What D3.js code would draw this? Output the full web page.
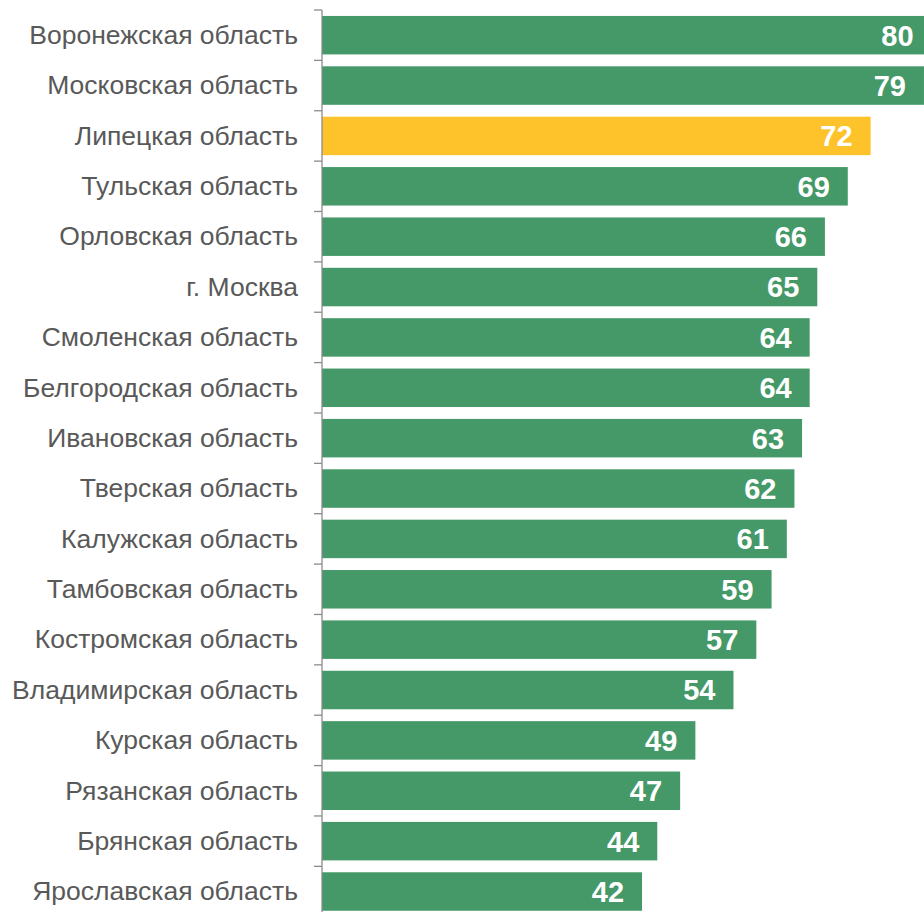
<!DOCTYPE html>
<html><head><meta charset="utf-8">
<script src="https://cdn.jsdelivr.net/npm/d3@7"></script>
<style>body{margin:0;background:#fff}svg{display:block}</style>
</head><body>
<script>
const categories = ["Воронежская область","Московская область","Липецкая область","Тульская область","Орловская область","г. Москва","Смоленская область","Белгородская область","Ивановская область","Тверская область","Калужская область","Тамбовская область","Костромская область","Владимирская область","Курская область","Рязанская область","Брянская область","Ярославская область"];
const values = [80,79,72,69,66,65,64,64,63,62,61,59,57,54,49,47,44,42];
const highlight = ["Липецкая область"];

const W = 924, H = 912;
const FONT = "'Liberation Sans', Arial, sans-serif";
const svg = d3.select("body").append("svg").attr("width", W).attr("height", H);
const x = d3.scaleLinear().domain([0, 80]).range([322, 931.6]);
const y = d3.scaleBand().domain(categories).range([10, 916.7]).paddingInner(0.236).paddingOuter(0.118);
const step = y.step();

const data = categories.map((c, i) => ({c, v: values[i]}));

svg.selectAll("rect.bar").data(data).join("rect").attr("class","bar")
  .attr("x", x(0)).attr("y", d => y(d.c))
  .attr("width", d => x(d.v) - x(0)).attr("height", y.bandwidth())
  .attr("fill", d => highlight.includes(d.c) ? "#FEC22B" : "#459968");

const g = svg.append("g");
g.append("line").attr("x1", 322).attr("x2", 322).attr("y1", 10).attr("y2", 916.7)
  .attr("stroke", "#8c8c8c").attr("stroke-width", 1.3);
const bounds = d3.range(categories.length + 1).map(i => 10 + i * step);
g.selectAll("line.tick").data(bounds).join("line").attr("class","tick")
  .attr("x1", 314).attr("x2", 322).attr("y1", d => d).attr("y2", d => d)
  .attr("stroke", "#8c8c8c").attr("stroke-width", 1.3);

svg.selectAll("text.cat").data(data).join("text").attr("class","cat")
  .attr("x", 298).attr("y", d => y(d.c) + y.bandwidth()/2)
  .attr("dy", "0.33em").attr("text-anchor", "end")
  .style("font-family", FONT).style("font-size", "26.5px")
  .attr("fill", "#595959").text(d => d.c);

svg.selectAll("text.val").data(data).join("text").attr("class","val")
  .attr("x", d => x(d.v) - 18).attr("y", d => y(d.c) + y.bandwidth()/2)
  .attr("dy", "0.36em").attr("text-anchor", "end")
  .style("font-family", FONT).style("font-size", "29px")
  .style("font-weight", "bold").attr("fill", "#fff").text(d => d.v);
</script>
</body></html>
